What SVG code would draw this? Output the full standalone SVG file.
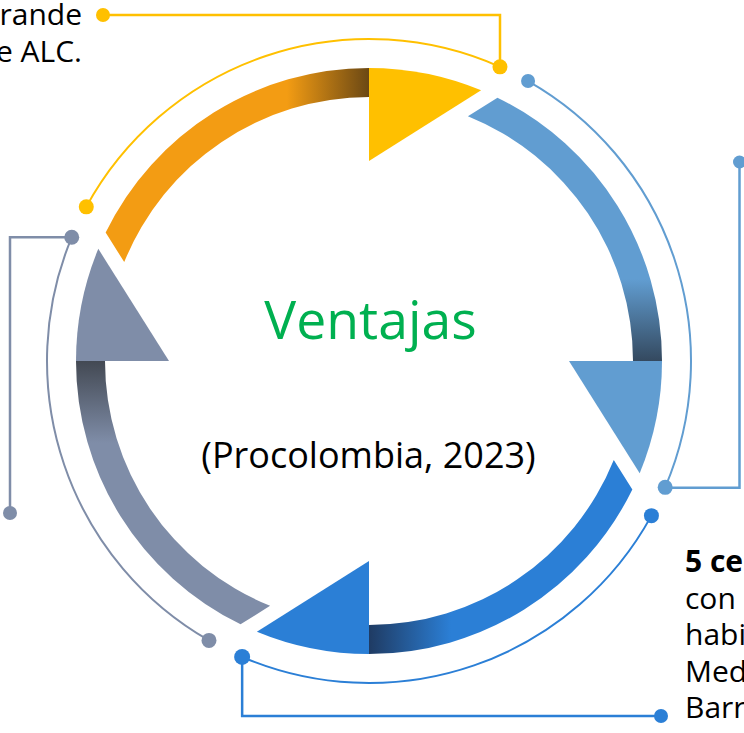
<svg xmlns="http://www.w3.org/2000/svg" width="744" height="733" viewBox="0 0 744 733">
  <defs>
    <linearGradient id="gOrange" gradientUnits="userSpaceOnUse" x1="287" y1="0" x2="369" y2="0">
      <stop offset="0" stop-color="#F39C13"/>
      <stop offset="1" stop-color="#6B4814"/>
    </linearGradient>
    <linearGradient id="gLight" gradientUnits="userSpaceOnUse" x1="287" y1="0" x2="369" y2="0">
      <stop offset="0" stop-color="#619DD1"/>
      <stop offset="1" stop-color="#34495F"/>
    </linearGradient>
    <linearGradient id="gBlue" gradientUnits="userSpaceOnUse" x1="287" y1="0" x2="369" y2="0">
      <stop offset="0" stop-color="#2B7FD6"/>
      <stop offset="1" stop-color="#1F3B63"/>
    </linearGradient>
    <linearGradient id="gGray" gradientUnits="userSpaceOnUse" x1="287" y1="0" x2="369" y2="0">
      <stop offset="0" stop-color="#7F8DA8"/>
      <stop offset="1" stop-color="#434953"/>
    </linearGradient>
    <path id="band" d="M105.65,232.55 A293,293 0 0 1 369,68 L369,97 A264,264 0 0 0 124.22,262.10 Z"/>
    <path id="head" d="M369,68 A293,293 0 0 1 481.13,90.30 L369,161 Z"/>
  </defs>
  <style>
    .txt { font-family: "Open Sans", "Noto Sans", "DejaVu Sans", sans-serif; fill: #000000; }
    .arc { fill: none; stroke-width: 2; }
    .ln { fill: none; stroke-width: 2.5; }
  </style>

  <g id="seg-top">
    <use href="#band" fill="url(#gOrange)"/>
    <use href="#head" fill="#FFC000"/>
  </g>
  <g id="seg-right" transform="rotate(90 369 361)">
    <use href="#band" fill="url(#gLight)"/>
    <use href="#head" fill="#619DD1"/>
  </g>
  <g id="seg-bottom" transform="rotate(180 369 361)">
    <use href="#band" fill="url(#gBlue)"/>
    <use href="#head" fill="#2B7FD6"/>
  </g>
  <g id="seg-left" transform="rotate(270 369 361)">
    <use href="#band" fill="url(#gGray)"/>
    <use href="#head" fill="#7F8DA8"/>
  </g>

  <g id="connectors">
    <g id="conn-yellow" stroke="#FFC000" fill="#FFC000">
      <path class="arc" d="M86.29,206.86 A322,322 0 0 1 499.97,66.84"/>
      <path class="ln" d="M500,66.84 L500,15 L103,15"/>
      <circle cx="86.29" cy="206.86" r="7.5" stroke="none"/>
      <circle cx="499.97" cy="66.84" r="7.5" stroke="none"/>
      <circle cx="103" cy="15" r="7" stroke="none"/>
    </g>
    <g id="conn-lightblue" stroke="#619DD1" fill="#619DD1">
      <path class="arc" d="M528.05,81.02 A322,322 0 0 1 665.18,487.33"/>
      <path class="ln" d="M665.18,487.8 L739.5,487.8 L739.5,162"/>
      <circle cx="528.05" cy="81.02" r="7" stroke="none"/>
      <circle cx="665.18" cy="487.33" r="7.5" stroke="none"/>
      <circle cx="739.5" cy="162" r="6.5" stroke="none"/>
    </g>
    <g id="conn-blue" stroke="#2B7FD6" fill="#2B7FD6">
      <path class="arc" d="M651.44,515.63 A322,322 0 0 1 242.15,656.96"/>
      <path class="ln" d="M242.15,656.96 L242.15,716 L661,716"/>
      <circle cx="651.44" cy="515.63" r="7.5" stroke="none"/>
      <circle cx="242.15" cy="656.96" r="8" stroke="none"/>
      <circle cx="661" cy="716" r="7" stroke="none"/>
    </g>
    <g id="conn-gray" stroke="#7F8DA8" fill="#7F8DA8">
      <path class="arc" d="M208.98,640.42 A322,322 0 0 1 71.73,237.26"/>
      <path class="ln" d="M71.73,237.26 L10,237.26 L10,513"/>
      <circle cx="208.98" cy="640.42" r="7.5" stroke="none"/>
      <circle cx="71.73" cy="237.26" r="7.5" stroke="none"/>
      <circle cx="10" cy="513" r="7" stroke="none"/>
    </g>
  </g>

  <g id="center-title">
    <text class="txt" x="370.5" y="339" font-size="53.5" text-anchor="middle" style="fill:#00B050">Ventajas</text>
    <text class="txt" x="368.5" y="468" font-size="36" text-anchor="middle">(Procolombia, 2023)</text>
  </g>

  <g id="label-topleft">
    <text class="txt" x="82" y="25" font-size="30" text-anchor="end">rande</text>
    <text class="txt" x="82" y="62" font-size="30" text-anchor="end">e ALC.</text>
  </g>

  <g id="label-bottomright">
    <text class="txt" x="685" y="572" font-size="30" font-weight="bold">5 ce</text>
    <text class="txt" x="685" y="609" font-size="30">con</text>
    <text class="txt" x="685" y="645" font-size="30">habi</text>
    <text class="txt" x="685" y="682" font-size="30">Med</text>
    <text class="txt" x="685" y="718" font-size="30">Barr</text>
  </g>
</svg>
